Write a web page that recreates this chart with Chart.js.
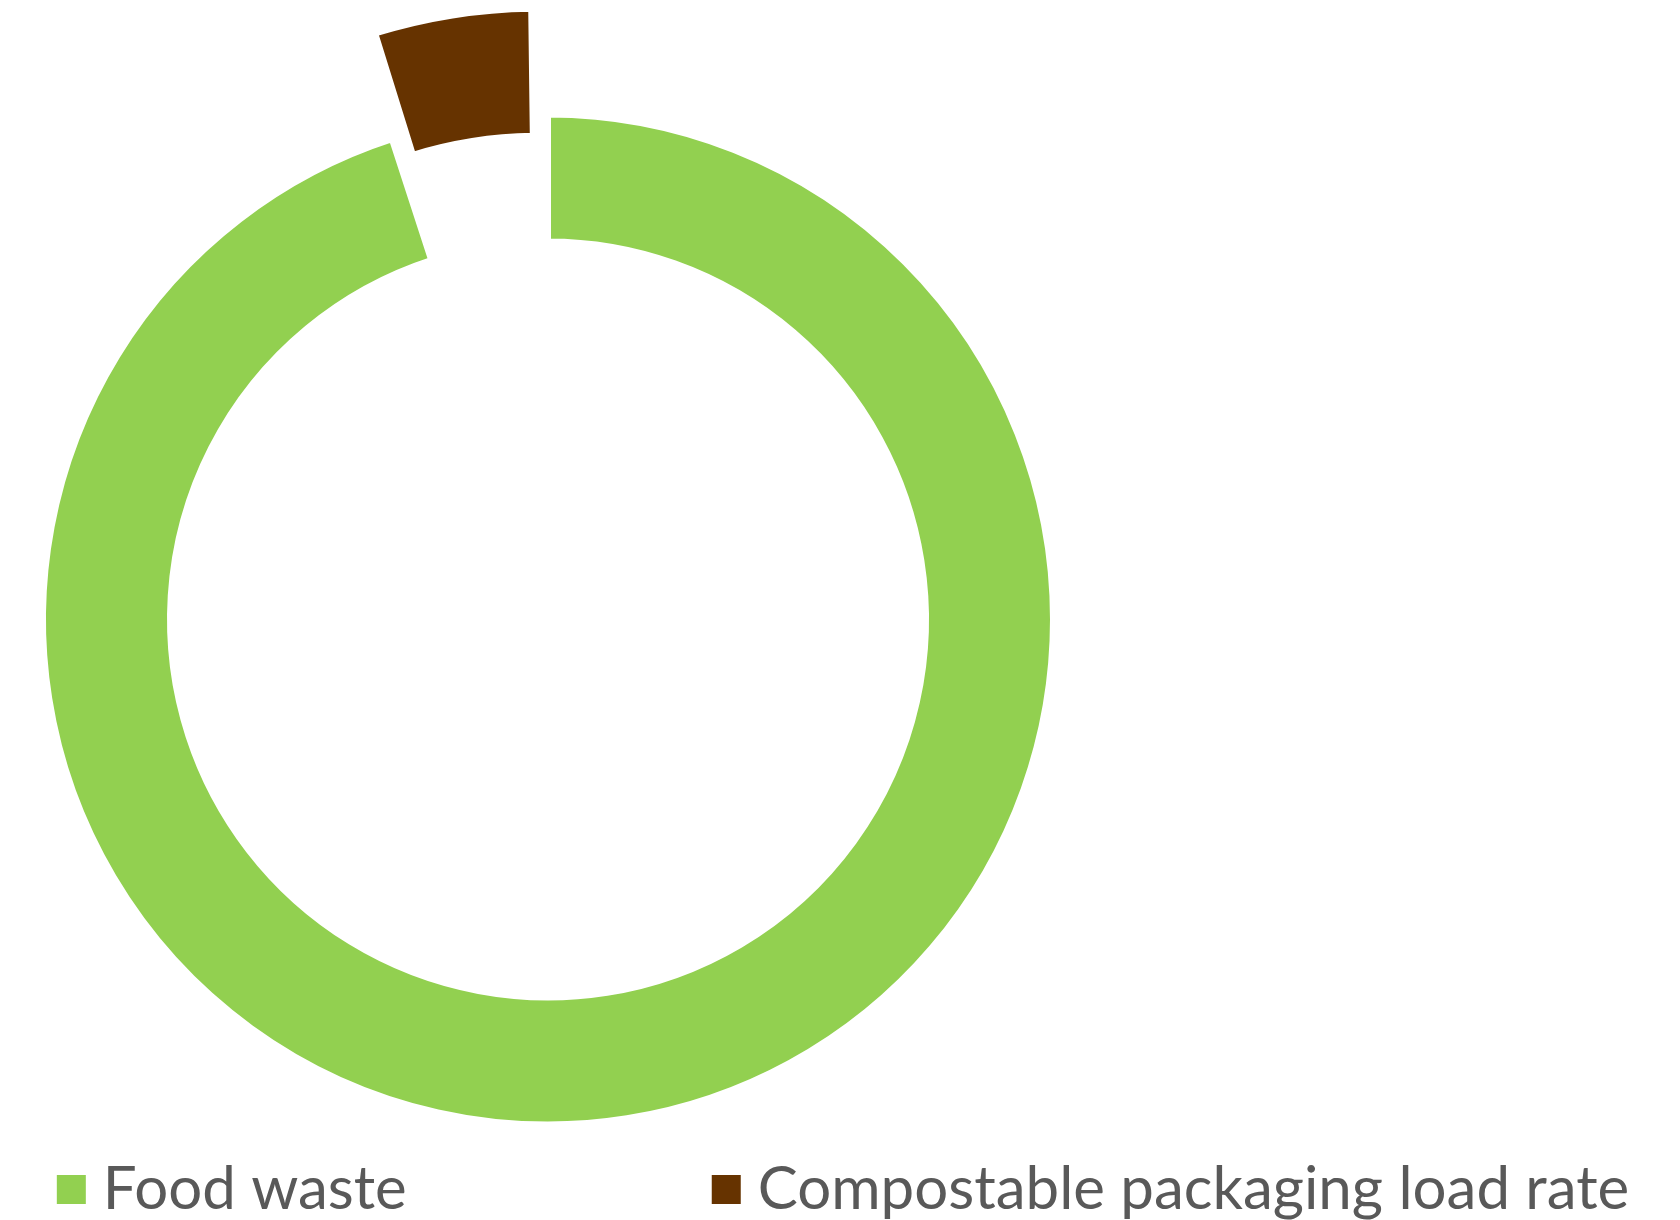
<!DOCTYPE html>
<html>
<head>
<meta charset="utf-8">
<script src="https://cdn.jsdelivr.net/npm/chart.js@4.4.1/dist/chart.umd.min.js"></script>
<style>
  html, body { margin: 0; padding: 0; background: #fff; }
  .chart-box { width: 1680px; height: 1220px; }
</style>
</head>
<body>
<div class="chart-box"><canvas id="waste"></canvas></div>
<script>
const categories = ["Food waste", "Compostable packaging load rate"];
const shares = [95, 5];
const sliceColors = ["#92D050", "#663300"];
const sliceOffsets = [0, 252];

// legend along the bottom, spaced out like the Excel one
const bottomLegend = {
  id: "bottomLegend",
  afterDraw(chart) {
    const c = chart.ctx;
    const box = 29, gap = 17, itemGap = 305;
    c.save();
    c.font = "60px Lato";
    c.textBaseline = "alphabetic";
    const widths = categories.map((t) => c.measureText(t).width);
    let total = 0;
    widths.forEach((w, i) => {
      total += box + gap + w + (i > 0 ? itemGap : 0);
    });
    let x = (chart.width - total) / 2 + 3;
    const y = 1209;
    categories.forEach((t, i) => {
      c.fillStyle = sliceColors[i];
      c.fillRect(x, y - 34, box, box);
      c.fillStyle = "#595959";
      c.fillText(t, x + box + gap, y);
      x += box + gap + widths[i] + itemGap;
    });
    c.restore();
  },
};

const ctx = document.getElementById("waste");

new Chart(ctx, {
  type: "doughnut",
  data: {
    labels: categories,
    datasets: [
      {
        data: shares,
        backgroundColor: sliceColors,
        borderColor: "#ffffff",
        borderWidth: 6,
        offset: sliceOffsets,
        clip: false,
      },
    ],
  },
  options: {
    responsive: true,
    maintainAspectRatio: false,
    animation: false,
    radius: 505,
    cutout: "74.85%",
    layout: {
      padding: { left: 0, right: 584, top: 60, bottom: 41 },
    },
    plugins: {
      legend: { display: false },
      tooltip: { enabled: false },
    },
  },
  plugins: [bottomLegend],
});
</script>
</body>
</html>
